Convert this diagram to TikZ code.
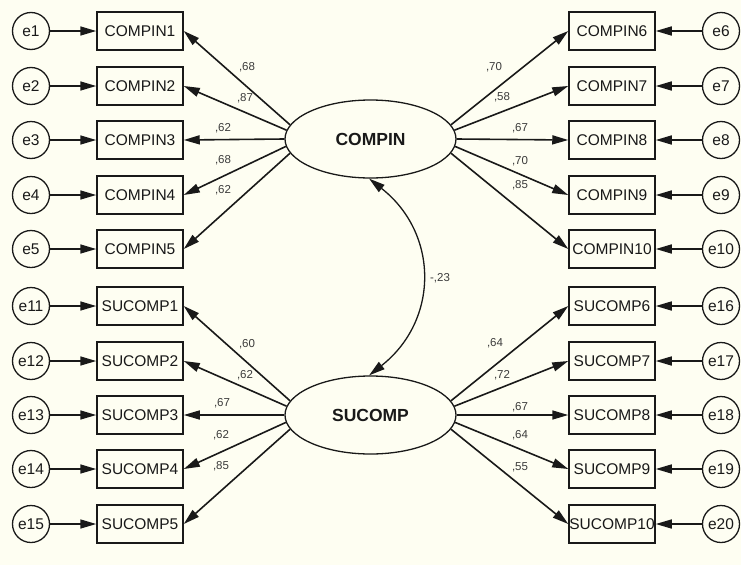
\documentclass[tikz,border=0pt]{standalone}
\usepackage{fontspec}
\setmainfont{Liberation Sans}
\usetikzlibrary{arrows.meta,shapes.geometric}
\definecolor{bg}{RGB}{254,254,242}
\definecolor{ink}{RGB}{25,25,25}
\begin{document}
\begin{tikzpicture}[x=1pt,y=-1pt,
  obs/.style={draw=ink, line width=1.5pt, minimum width=86pt, minimum height=38pt, inner sep=0pt, font=\fontsize{15.5}{16}\selectfont, text=ink},
  err/.style={circle, draw=ink, line width=1.3pt, minimum size=37pt, inner sep=0pt, font=\fontsize{15.5}{16}\selectfont, text=ink},
  lat/.style={ellipse, draw=ink, line width=1.3pt, minimum width=171pt, minimum height=78pt, inner sep=0pt, font=\bfseries\fontsize{17.5}{18}\selectfont, text=ink},
  arr/.style={draw=ink, line width=1.6pt, -{Triangle[length=16pt,width=9pt]}},
  coef/.style={font=\fontsize{11.5}{12}\selectfont, text=ink!85, inner sep=0pt},
]
\fill[bg] (0,0) rectangle (741,565);
\useasboundingbox (0,0) rectangle (741,565);

% latent variables
\node[lat] (COMPIN) at (370.5,139) {COMPIN};
\node[lat] (SUCOMP) at (370.5,415) {SUCOMP};

% top-left
\node[obs] (c1) at (140,31) {COMPIN1};
\node[obs] (c2) at (140,86) {COMPIN2};
\node[obs] (c3) at (140,140) {COMPIN3};
\node[obs] (c4) at (140,195) {COMPIN4};
\node[obs] (c5) at (140,249) {COMPIN5};
\node[err] (e1) at (31,31) {e1};
\node[err] (e2) at (31,86) {e2};
\node[err] (e3) at (31,140) {e3};
\node[err] (e4) at (31,195) {e4};
\node[err] (e5) at (31,249) {e5};

% top-right
\node[obs] (c6) at (612,31) {COMPIN6};
\node[obs] (c7) at (612,86) {COMPIN7};
\node[obs] (c8) at (612,140) {COMPIN8};
\node[obs] (c9) at (612,195) {COMPIN9};
\node[obs] (c10) at (612,249) {COMPIN10};
\node[err] (e6) at (721,31) {e6};
\node[err] (e7) at (721,86) {e7};
\node[err] (e8) at (721,140) {e8};
\node[err] (e9) at (721,195) {e9};
\node[err] (e10) at (721,249) {e10};

% bottom-left
\node[obs] (s1) at (140,306) {SUCOMP1};
\node[obs] (s2) at (140,361) {SUCOMP2};
\node[obs] (s3) at (140,415) {SUCOMP3};
\node[obs] (s4) at (140,469) {SUCOMP4};
\node[obs] (s5) at (140,524) {SUCOMP5};
\node[err] (e11) at (31,306) {e11};
\node[err] (e12) at (31,361) {e12};
\node[err] (e13) at (31,415) {e13};
\node[err] (e14) at (31,469) {e14};
\node[err] (e15) at (31,524) {e15};

% bottom-right
\node[obs] (s6) at (612,306) {SUCOMP6};
\node[obs] (s7) at (612,361) {SUCOMP7};
\node[obs] (s8) at (612,415) {SUCOMP8};
\node[obs] (s9) at (612,469) {SUCOMP9};
\node[obs] (s10) at (612,524) {SUCOMP10};
\node[err] (e16) at (721,306) {e16};
\node[err] (e17) at (721,361) {e17};
\node[err] (e18) at (721,415) {e18};
\node[err] (e19) at (721,469) {e19};
\node[err] (e20) at (721,524) {e20};

% error arrows
\foreach \e/\c in {e1/c1,e2/c2,e3/c3,e4/c4,e5/c5,e6/c6,e7/c7,e8/c8,e9/c9,e10/c10,
                   e11/s1,e12/s2,e13/s3,e14/s4,e15/s5,e16/s6,e17/s7,e18/s8,e19/s9,e20/s10}
  \draw[arr] (\e) -- (\c);

% loadings
\foreach \a/\c in {170/c1,174/c2,180/c3,185.5/c4,190/c5}
  \draw[arr] (COMPIN.\a) -- (\c.east);
\foreach \a/\c in {10/c6,6/c7,0/c8,-5.5/c9,-10/c10}
  \draw[arr] (COMPIN.\a) -- (\c.west);
\foreach \a/\c in {170/s1,174/s2,180/s3,185.5/s4,190/s5}
  \draw[arr] (SUCOMP.\a) -- (\c.east);
\foreach \a/\c in {10/s6,6/s7,0/s8,-5.5/s9,-10/s10}
  \draw[arr] (SUCOMP.\a) -- (\c.west);

% covariance
\draw[draw=ink, line width=1.3pt, {Triangle[length=16pt,width=9pt]}-{Triangle[length=16pt,width=9pt]}]
  (COMPIN.-92) .. controls +(70,55) and +(70,-55) .. (SUCOMP.92);
\node[coef] (cov) at (440,278) {-,23};

% coefficient labels
\node[coef] (l1) at (247,67) {,68};
\node[coef] (l2) at (245,98) {,87};
\node[coef] (l3) at (223,128) {,62};
\node[coef] (l4) at (223,160) {,68};
\node[coef] (l5) at (223,190) {,62};
\node[coef] (l6) at (494,67) {,70};
\node[coef] (l7) at (502,97) {,58};
\node[coef] (l8) at (520,128) {,67};
\node[coef] (l9) at (520,161) {,70};
\node[coef] (l10) at (520,185) {,85};
\node[coef] (l11) at (247,344) {,60};
\node[coef] (l12) at (245,375) {,62};
\node[coef] (l13) at (222,403) {,67};
\node[coef] (l14) at (221,435) {,62};
\node[coef] (l15) at (221,466) {,85};
\node[coef] (l16) at (495,343) {,64};
\node[coef] (l17) at (502,375) {,72};
\node[coef] (l18) at (520,407) {,67};
\node[coef] (l19) at (520,435) {,64};
\node[coef] (l20) at (520,467) {,55};
\end{tikzpicture}
\end{document}
